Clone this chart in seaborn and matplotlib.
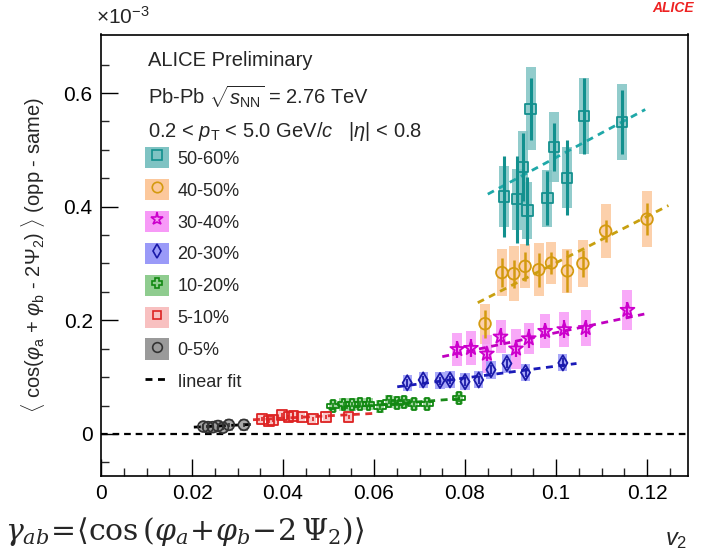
import numpy as np
import matplotlib
matplotlib.use("Agg")
import matplotlib.pyplot as plt
import seaborn as sns
from matplotlib.patches import Patch
from matplotlib.lines import Line2D
from matplotlib.legend_handler import HandlerTuple

sns.set_theme(style="white")
plt.rcParams['font.family'] = ['Liberation Sans', 'DejaVu Sans']
plt.rcParams['mathtext.fontset'] = 'custom'
plt.rcParams['mathtext.rm'] = 'Liberation Sans'
plt.rcParams['mathtext.it'] = 'Liberation Sans:italic'

# ---------------- data (y in units of 1e-3) ----------------
labels = ["50-60%", "40-50%", "30-40%", "20-30%", "10-20%", "5-10%", "0-5%"]

c5060_x = [0.0885, 0.0914, 0.0927, 0.0937, 0.0944, 0.0981, 0.0995, 0.1024, 0.1061, 0.1145]
c5060_y = [0.418, 0.413, 0.470, 0.393, 0.572, 0.415, 0.505, 0.451, 0.559, 0.549]
c5060_stat = [0.072, 0.077, 0.060, 0.060, 0.055, 0.048, 0.043, 0.066, 0.067, 0.056]
c5060_sys = [0.054, 0.054, 0.063, 0.050, 0.073, 0.050, 0.062, 0.054, 0.067, 0.067]
c5060_fit_x = [0.0850, 0.1196]
c5060_fit_y = [0.422, 0.571]

c4050_x = [0.0844, 0.0881, 0.0907, 0.0932, 0.0962, 0.0990, 0.1025, 0.1059, 0.1109, 0.1200]
c4050_y = [0.194, 0.284, 0.282, 0.295, 0.289, 0.301, 0.287, 0.300, 0.357, 0.378]
c4050_stat = [0.025, 0.026, 0.025, 0.025, 0.030, 0.019, 0.037, 0.023, 0.019, 0.028]
c4050_sys = [0.035, 0.041, 0.048, 0.039, 0.047, 0.037, 0.039, 0.041, 0.047, 0.049]
c4050_fit_x = [0.0828, 0.1247]
c4050_fit_y = [0.231, 0.402]

c3040_x = [0.0783, 0.0813, 0.0848, 0.0878, 0.0912, 0.0940, 0.0976, 0.1018, 0.1065, 0.1157]
c3040_y = [0.149, 0.151, 0.141, 0.171, 0.150, 0.168, 0.181, 0.184, 0.186, 0.218]
c3040_stat = [0.015, 0.016, 0.012, 0.015, 0.015, 0.016, 0.014, 0.016, 0.015, 0.015]
c3040_sys = [0.029, 0.030, 0.033, 0.029, 0.035, 0.028, 0.030, 0.031, 0.032, 0.035]
c3040_fit_x = [0.0750, 0.1194]
c3040_fit_y = [0.136, 0.211]

c2030_x = [0.0673, 0.0708, 0.0745, 0.0767, 0.0800, 0.0830, 0.0857, 0.0892, 0.0933, 0.1015]
c2030_y = [0.090, 0.095, 0.094, 0.095, 0.092, 0.095, 0.113, 0.124, 0.108, 0.125]
c2030_stat = [0.007, 0.007, 0.007, 0.007, 0.007, 0.007, 0.008, 0.008, 0.008, 0.008]
c2030_sys = [0.014, 0.014, 0.015, 0.015, 0.015, 0.015, 0.016, 0.016, 0.015, 0.015]
c2030_fit_x = [0.0651, 0.1045]
c2030_fit_y = [0.083, 0.124]

c1020_x = [0.0510, 0.0533, 0.0552, 0.0570, 0.0588, 0.0613, 0.0633, 0.0651, 0.0666, 0.0688, 0.0717, 0.0787]
c1020_y = [0.049, 0.052, 0.052, 0.053, 0.053, 0.048, 0.057, 0.055, 0.056, 0.053, 0.053, 0.063]
c1020_stat = [0.005, 0.005, 0.005, 0.005, 0.005, 0.005, 0.005, 0.005, 0.005, 0.005, 0.005, 0.006]
c1020_sys = [0.011, 0.011, 0.011, 0.011, 0.011, 0.011, 0.011, 0.011, 0.011, 0.011, 0.011, 0.011]
c1020_fit_x = [0.0500, 0.0800]
c1020_fit_y = [0.044, 0.063]

c0510_x = [0.0353, 0.0370, 0.0378, 0.0397, 0.0412, 0.0423, 0.0441, 0.0465, 0.0495, 0.0544]
c0510_y = [0.026, 0.023, 0.025, 0.033, 0.030, 0.032, 0.030, 0.026, 0.030, 0.030]
c0510_stat = [0.004, 0.004, 0.004, 0.004, 0.004, 0.004, 0.004, 0.004, 0.004, 0.004]
c0510_sys = [0.010, 0.010, 0.010, 0.010, 0.010, 0.010, 0.010, 0.010, 0.010, 0.010]
c0510_fit_x = [0.0334, 0.0596]
c0510_fit_y = [0.025, 0.036]

c0005_x = [0.0225, 0.0235, 0.0246, 0.0257, 0.0268, 0.0281, 0.0314]
c0005_y = [0.013, 0.012, 0.012, 0.014, 0.011, 0.016, 0.016]
c0005_stat = [0.004, 0.004, 0.004, 0.004, 0.004, 0.004, 0.004]
c0005_sys = [0.010, 0.010, 0.010, 0.010, 0.010, 0.010, 0.010]
c0005_fit_x = [0.0204, 0.0335]
c0005_fit_y = [0.012, 0.017]

x_ticks = [0, 0.02, 0.04, 0.06, 0.08, 0.1, 0.12]
x_ticklabels = ["0", "0.02", "0.04", "0.06", "0.08", "0.1", "0.12"]
y_ticks = [0, 0.2, 0.4, 0.6]
y_ticklabels = ["0", "0.2", "0.4", "0.6"]

# ---------------- styles ----------------
series = [
    (c5060_x, c5060_y, c5060_stat, c5060_sys, c5060_fit_x, c5060_fit_y),
    (c4050_x, c4050_y, c4050_stat, c4050_sys, c4050_fit_x, c4050_fit_y),
    (c3040_x, c3040_y, c3040_stat, c3040_sys, c3040_fit_x, c3040_fit_y),
    (c2030_x, c2030_y, c2030_stat, c2030_sys, c2030_fit_x, c2030_fit_y),
    (c1020_x, c1020_y, c1020_stat, c1020_sys, c1020_fit_x, c1020_fit_y),
    (c0510_x, c0510_y, c0510_stat, c0510_sys, c0510_fit_x, c0510_fit_y),
    (c0005_x, c0005_y, c0005_stat, c0005_sys, c0005_fit_x, c0005_fit_y),
]
line_cols = ["#12908e", "#d49a10", "#cc00cc", "#1a1aa8", "#118811", "#dd2222", "#333333"]
fit_cols = ["#1fa8a8", "#c8a010", "#c000c0", "#1a1ab8", "#1a8a1a", "#e03030", "#000000"]
box_cols = ["#7fc3c3", "#fcc89c", "#f79af7", "#9a9af8", "#8fcc8f", "#f8c0c0", "#9a9a9a"]
markers = ["s", "o", "*", "d", "P", "s", "o"]
msizes = [55, 70, 110, 60, 70, 50, 60]
box_w = [0.0022, 0.0022, 0.0022, 0.0020, 0.0018, 0.0016, 0.0016]
ebar_lw = [2.2, 1.8, 1.6, 1.3, 1.2, 1.2, 1.2]

fig = plt.figure(figsize=(7.02, 5.52), dpi=100)
ax = fig.add_axes([101/702, 1 - 476/552, 587/702, (476 - 34.5)/552])

ax.axhline(0, color="black", ls=(0, (3, 2.2)), lw=1.6, zorder=1)

for i, (xs, ys, st, sy, fx, fy) in enumerate(series):
    xs_a = np.asarray(xs); ys_a = np.asarray(ys); sy_a = np.asarray(sy)
    ax.bar(xs_a, 2 * sy_a, bottom=ys_a - sy_a, width=box_w[i], color=box_cols[i],
           edgecolor="none", alpha=0.85, zorder=2)
    sns.lineplot(x=fx, y=fy, color=fit_cols[i], lw=2.0, linestyle=(0, (2.5, 2.0)),
                 ax=ax, zorder=3)
    ax.errorbar(xs, ys, yerr=st, fmt="none", ecolor=line_cols[i], elinewidth=ebar_lw[i],
                capsize=0, zorder=4)
    sns.scatterplot(x=xs, y=ys, marker=markers[i], s=msizes[i], facecolor="none",
                    edgecolor=line_cols[i], linewidth=1.3, ax=ax, zorder=5)
    ax.collections[-1].set_facecolor("none")

ax.set_xlim(0, 0.129)
ax.set_ylim(-0.074, 0.703)
ax.set_xticks(x_ticks)
ax.set_xticklabels(x_ticklabels)
ax.set_yticks(y_ticks)
ax.set_yticklabels(y_ticklabels)
ax.set_xticks(np.arange(0, 0.129, 0.005), minor=True)
ax.set_yticks(np.arange(-0.05, 0.70, 0.05), minor=True)
ax.tick_params(which="major", direction="in", length=12, width=1.0, labelsize=15,
               colors="black", pad=6, top=False, right=False, bottom=True, left=True)
ax.tick_params(which="minor", direction="in", length=6, width=1.0,
               top=False, right=False, bottom=True, left=True)
for s in ax.spines.values():
    s.set_color("black")
    s.set_linewidth(1.2)
ax.set_xlabel("")
ax.set_ylabel(r"$\langle$ cos($\varphi_{\rm a}$ + $\varphi_{\rm b}$ - 2$\Psi_{2}$) $\rangle$ (opp - same)",
              fontsize=14.5, labelpad=12)

# texts
fig.text(148/702, 1 - 60/552, "ALICE Preliminary", fontsize=14.5, va="center", ha="left")
fig.text(148/702, 1 - 97/552, r"Pb-Pb $\sqrt{s_{\rm NN}}$ = 2.76 TeV", fontsize=14.5,
         va="center", ha="left")
fig.text(148/702, 1 - 131/552, r"0.2 < $p_{\rm T}$ < 5.0 GeV/$c$   |$\eta$| < 0.8",
         fontsize=14.5, va="center", ha="left")
fig.text(96/702, 1 - 17/552, r"$\times$10$^{-3}$", fontsize=15, va="center", ha="left")
fig.text(665/702, 1 - 540/552, r"$v_{2}$", fontsize=17, va="center", ha="left")
fig.text(652/702, 0.999, "ALICE", fontsize=10, color="#ee2222", fontweight="bold",
         fontstyle="italic", va="top", ha="left")
fig.text(5/702, 1 - 532/552,
         r"$\gamma_{ab}\!=\!\langle\cos\left(\varphi_a\!+\!\varphi_b\!-\!2\,\Psi_2\right)\rangle$",
         fontsize=21.5, va="center", ha="left", math_fontfamily="dejavuserif")

# legend
handles = []
for i in range(7):
    p = Patch(facecolor=box_cols[i], edgecolor="none")
    m = Line2D([], [], marker=markers[i], ls="none", mfc="none", mec=line_cols[i],
               mew=1.2, ms=np.sqrt(msizes[i]) * 0.9)
    handles.append((p, m))
handles.append(Line2D([], [], color="black", ls=(0, (2.5, 2.0)), lw=2))
leg_labels = labels + ["linear fit"]
leg = ax.legend(handles, leg_labels, handler_map={tuple: HandlerTuple(ndivide=1)},
                loc="upper left", bbox_to_anchor=((145 - 101)/587, (476 - 147)/441.5),
                frameon=False, fontsize=13, handlelength=1.35, handleheight=1.45,
                labelspacing=0.58, handletextpad=0.45, borderaxespad=0, borderpad=0)

fig.savefig("out.png", dpi=100)
